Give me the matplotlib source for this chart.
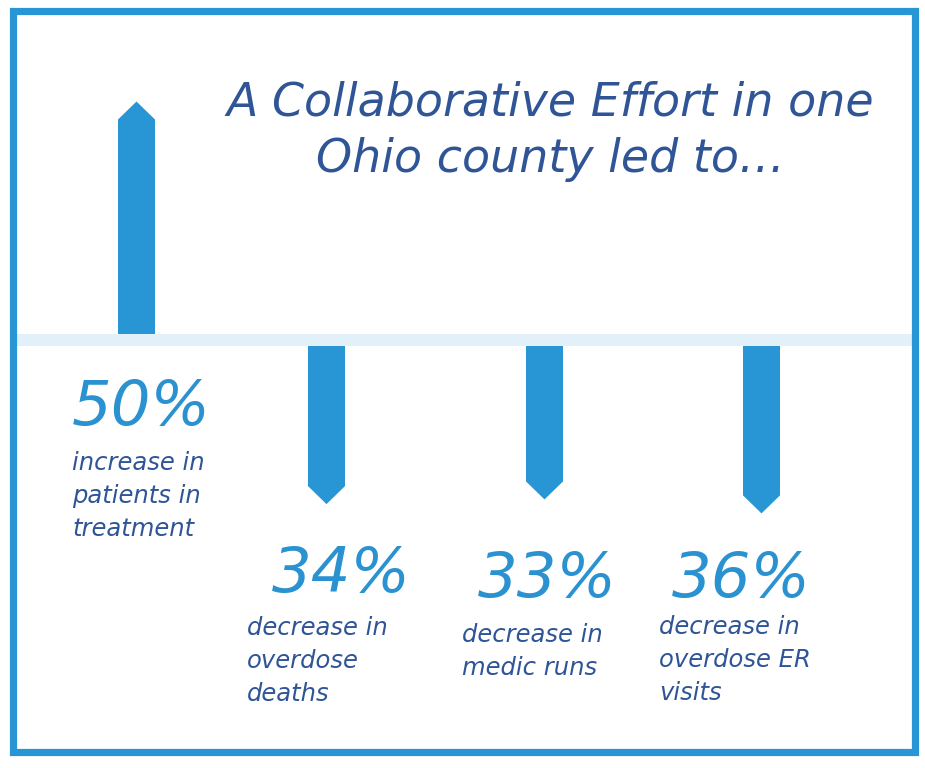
import matplotlib.pyplot as plt
from matplotlib.patches import Polygon, Rectangle

# dados
title_lines = ["A Collaborative Effort in one", "Ohio county led to\u2026"]
values = [50, -34, -33, -36]
descriptions = [
    ["increase in", "patients in", "treatment"],
    ["decrease in", "overdose", "deaths"],
    ["decrease in", "medic runs"],
    ["decrease in", "overdose ER", "visits"],
]

# cores
BLUE = '#2896d4'
DARK = '#2f5597'
PCT = '#2a92d0'
BAND = '#e2f0fa'

W, H = 925, 768
fig = plt.figure(figsize=(W / 100, H / 100), dpi=100)
fig.patch.set_facecolor('white')

# eixo em pixels na horizontal, em % na vertical (zero na faixa clara)
px_per_unit = 4.65
zero_px = 340
ax = fig.add_axes([0, 0, 1, 1])
ax.set_xlim(0, W)
ax.set_ylim(-(H - zero_px) / px_per_unit, zero_px / px_per_unit)
ax.axis('off')

band_half = 6 / px_per_unit
head = 18 / px_per_unit
arrow_w = 37
arrow_x = [136.5, 326.5, 544.5, 761.5]

# faixa do zero
ax.add_patch(Rectangle((15, -band_half), 897, 2 * band_half,
                       facecolor=BAND, edgecolor='none'))

# setas
for x, v in zip(arrow_x, values):
    s = 1 if v > 0 else -1
    base = s * band_half
    tip = base + v
    shoulder = tip - s * head
    pts = [(x - arrow_w / 2, base), (x + arrow_w / 2, base),
           (x + arrow_w / 2, shoulder), (x, tip), (x - arrow_w / 2, shoulder)]
    ax.add_patch(Polygon(pts, closed=True, facecolor=BLUE, edgecolor='none'))


def fx(px):
    return px / W


def fy(px):
    return 1 - px / H


# moldura
fig.add_artist(Rectangle((fx(12.5), fy(752)), fx(915) - fx(12.5), fy(11) - fy(752),
                         transform=fig.transFigure, fill=False,
                         edgecolor=BLUE, linewidth=5.2))

# título
for i, line in enumerate(title_lines):
    fig.text(fx(550), fy(115 + i * 57), line, ha='center', va='baseline',
             fontsize=33, style='italic', color=DARK, family='DejaVu Sans')

# rótulos
pct_pos = [(72, 425), (272, 592), (478, 597), (672, 597)]
desc_pos = [(72, 470), (247, 635), (462, 642), (659, 634)]
line_step = 33

for v, (px, py), (dx, dy), lines in zip(values, pct_pos, desc_pos, descriptions):
    fig.text(fx(px), fy(py), f"{abs(v)}%", ha='left', va='baseline',
             fontsize=45, style='italic', color=PCT, family='DejaVu Sans')
    for j, line in enumerate(lines):
        fig.text(fx(dx), fy(dy + j * line_step), line, ha='left', va='baseline',
                 fontsize=17.5, style='italic', color=DARK, family='DejaVu Sans')

fig.savefig('out.png', dpi=100, facecolor='white')
